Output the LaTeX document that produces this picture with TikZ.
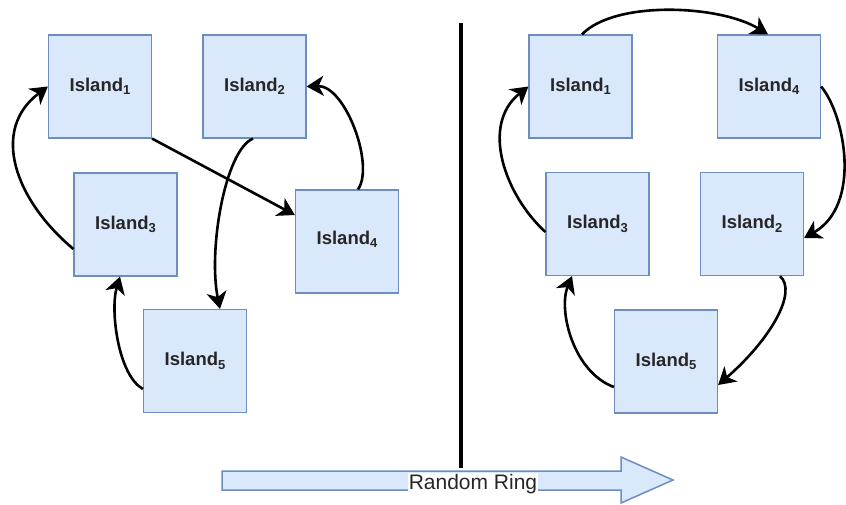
\documentclass[tikz,border=0pt]{standalone}
\usepackage{fontspec}
\setmainfont{Liberation Sans}
\usetikzlibrary{arrows.meta}
\definecolor{boxfill}{HTML}{DAE8FC}
\definecolor{boxline}{HTML}{6C8EBF}
\definecolor{txt}{HTML}{262626}
\newcommand{\isub}[1]{\raisebox{-3.5pt}{\fontsize{13}{14}\selectfont #1}}
\begin{document}
\begin{tikzpicture}[x=1pt,y=-1pt,
  island/.style={draw=boxline,fill=boxfill,line width=1.2pt,minimum width=103pt,minimum height=103pt,
    inner sep=0pt,text=txt,font=\fontsize{18.5}{22}\selectfont\bfseries},
  link/.style={line width=2.6pt,-{Stealth[length=17pt,width=20pt,inset=5pt]}}]
\useasboundingbox (0,0) rectangle (846,504);
% left side
\node[island] (L1) at (100,86.5) {Island\isub{1}};
\node[island] (L2) at (254.5,86.5) {Island\isub{2}};
\node[island] (L3) at (125.5,224.5) {Island\isub{3}};
\node[island] (L4) at (347,241.5) {\raisebox{8pt}{Island\isub{4}}};
\node[island] (L5) at (195,361) {Island\isub{5}};
% right side
\node[island] (R1) at (580.5,86.5) {Island\isub{1}};
\node[island] (R4) at (769,86.5) {Island\isub{4}};
\node[island] (R3) at (597.5,224) {Island\isub{3}};
\node[island] (R2) at (752,224) {Island\isub{2}};
\node[island] (R5) at (666,361.5) {Island\isub{5}};
% divider
\coordinate (dtop) at (461,23);
\coordinate (dbot) at (461,468);
\draw[line width=3.5pt] (dtop) -- (dbot);
% big arrow
\draw[draw=boxline,fill=boxfill,line width=1.5pt]
  (222,471) -- (621,471) -- (621,457) -- (673,480) -- (621,503) -- (621,490) -- (222,490) -- cycle;
\node[fill=white,inner sep=1pt,text=txt,font=\fontsize{21}{24}\selectfont] (rr) at (473,484) {Random Ring};
% left connectors
\draw[link] ([yshift=-24.5pt]L3.west) .. controls (15,200) and (-10,130) .. (L1.west);
\draw[link] (L1.south east) -- ([yshift=26.5pt]L4.west);
\draw[link] ([xshift=11pt]L4.north) .. controls (375,165) and (345,85) .. (L2.east);
\draw[link] ([xshift=-1.5pt]L2.south) .. controls (225,150) and (208,250) .. ([xshift=25pt]L5.north);
\draw[link] ([yshift=-28pt]L5.west) .. controls (118,375) and (110,310) .. ([xshift=-5.5pt]L3.south);
% right connectors
\draw[link] ([xshift=1.5pt]R1.north) .. controls (615,0) and (720,5) .. ([xshift=-1pt]R4.north);
\draw[link] (R4.east) .. controls (845,115) and (862,205) .. ([yshift=-14pt]R2.east);
\draw[link] ([xshift=28pt]R2.south) .. controls (798,292) and (770,340) .. ([yshift=-23.5pt]R5.east);
\draw[link] ([yshift=-25.5pt]R5.west) .. controls (573,372) and (558,310) .. ([xshift=-25.5pt]R3.south);
\draw[link] ([yshift=-8pt]R3.west) .. controls (505,195) and (480,125) .. (R1.west);
\end{tikzpicture}
\end{document}
